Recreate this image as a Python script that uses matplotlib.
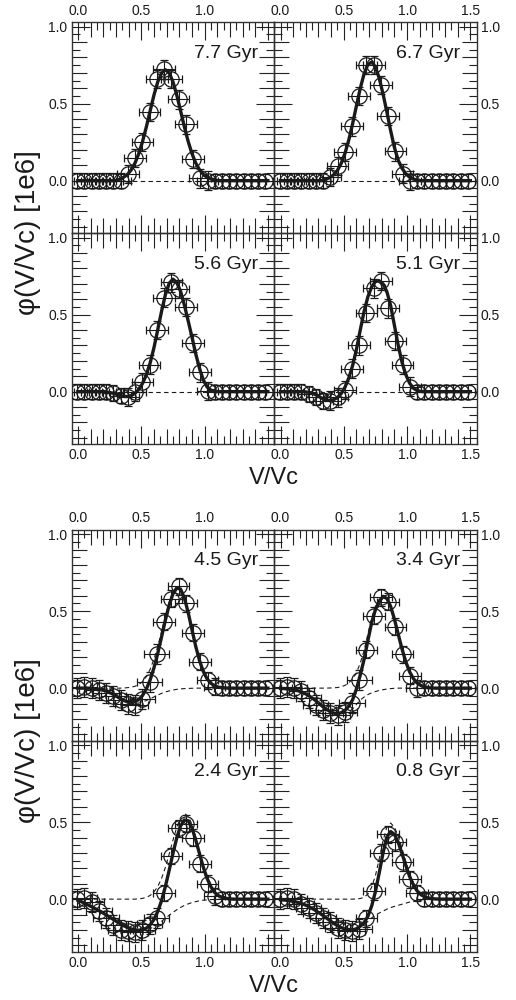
import numpy as np
import matplotlib
matplotlib.use('Agg')
import matplotlib.pyplot as plt
from matplotlib.ticker import MultipleLocator, FixedLocator, FixedFormatter

plt.rcParams['font.family'] = ['Liberation Sans', 'DejaVu Sans']

# ---------------- data ----------------
AGES = ['7.7 Gyr', '6.7 Gyr', '5.6 Gyr', '5.1 Gyr', '4.5 Gyr', '3.4 Gyr', '2.4 Gyr', '0.8 Gyr']

XTICKS = [0.0, 0.5, 1.0, 1.5]
XLABELS_LEFT = ['0.0', '0.5', '1.0', '']
XLABELS_RIGHT = ['0.0', '0.5', '1.0', '1.5']
YTICKS = [0.0, 0.5, 1.0]
YLABELS = ['0.0', '0.5', '1.0']

# positions of the measured points (V/Vc)
CIRCLE_X = [-0.007, 0.050, 0.107, 0.165, 0.222, 0.279, 0.336, 0.393, 0.451, 0.508,
            0.565, 0.622, 0.679, 0.737, 0.794, 0.851, 0.908, 0.965, 1.023, 1.080,
            1.137, 1.194, 1.251, 1.309, 1.366, 1.423, 1.480]

# measured points per panel
C1 = [0, 0, 0, 0, 0, 0, 0, 0.042, 0.146, 0.25, 0.447, 0.66, 0.723, 0.66, 0.528, 0.365,
      0.14, 0.015, 0, 0, 0, 0, 0, 0, 0, 0, 0]
C2 = [0, 0, 0, 0, 0, 0, 0, 0.022, 0.095, 0.185, 0.353, 0.55, 0.75, 0.75, 0.62, 0.42,
      0.19, 0.045, 0.0, 0, 0, 0, 0, 0, 0, 0, 0]
C3 = [0, 0, 0, 0, 0, -0.01, -0.026, -0.035, 0.0, 0.06, 0.175, 0.40, 0.61, 0.71, 0.665,
      0.55, 0.315, 0.125, 0.005, 0, 0, 0, 0, 0, 0, 0, 0]
C4 = [0, 0, 0, 0, -0.015, -0.036, -0.062, -0.058, -0.037, 0.01, 0.15, 0.30, 0.51, 0.67,
      0.72, 0.54, 0.33, 0.175, 0.033, 0, 0, 0, 0, 0, 0, 0, 0]
C5 = [0.0, 0.01, 0.0, -0.01, -0.03, -0.05, -0.08, -0.10, -0.11, -0.07, 0.04, 0.22, 0.43,
      0.58, 0.66, 0.55, 0.36, 0.17, 0.05, 0.01, 0, 0, 0, 0, 0, 0, 0]
C6 = [0.0, 0.01, 0.0, -0.02, -0.065, -0.11, -0.14, -0.16, -0.175, -0.155, -0.095, 0.05,
      0.25, 0.47, 0.59, 0.56, 0.40, 0.22, 0.08, 0.0, 0, 0, 0, 0, 0, 0, 0]
C7 = [0.0, 0.01, -0.02, -0.08, -0.12, -0.17, -0.20, -0.21, -0.215, -0.20, -0.16, -0.12,
      0.04, 0.28, 0.46, 0.49, 0.40, 0.23, 0.10, 0.02, 0, 0, 0, 0, 0, 0, 0]
C8 = [0.0, 0.01, 0.0, -0.03, -0.06, -0.09, -0.12, -0.15, -0.19, -0.20, -0.21, -0.195,
      -0.125, 0.05, 0.30, 0.42, 0.37, 0.24, 0.13, 0.04, 0, 0, 0, 0, 0, 0, 0]

# error bars (upper group / lower group)
XERR_A = [0.08] * 7 + [0.085] * 12 + [0.06] * 8
YERR_A = [0.05] * 7 + [0.06] * 12 + [0.045] * 8
XERR_B = [0.10] * 12 + [0.085] * 8 + [0.06] * 7
YERR_B = [0.065] * 12 + [0.055] * 8 + [0.045] * 7

# fitted curves (V/Vc grid)
CURVE_X = [0.00, 0.03, 0.06, 0.09, 0.12, 0.15, 0.18, 0.21, 0.24, 0.27, 0.30, 0.33, 0.36,
           0.39, 0.42, 0.45, 0.48, 0.51, 0.54, 0.57, 0.60, 0.63, 0.66, 0.69, 0.72, 0.75,
           0.78, 0.81, 0.84, 0.87, 0.90, 0.93, 0.96, 0.99, 1.02, 1.05, 1.08, 1.11, 1.14,
           1.17, 1.20, 1.23, 1.26, 1.29, 1.32, 1.35, 1.38, 1.41, 1.44, 1.47, 1.50]

T1 = [0] * 11 + [0.010, 0.022, 0.040, 0.070, 0.114, 0.176, 0.255, 0.350, 0.454, 0.556,
                 0.642, 0.700, 0.720, 0.700, 0.642, 0.556, 0.454, 0.350, 0.255, 0.176,
                 0.114, 0.070, 0.040, 0.022, 0.011, 0.005] + [0] * 14
T2 = [0] * 12 + [0.010, 0.020, 0.038, 0.067, 0.113, 0.179, 0.266, 0.371, 0.487, 0.599,
                 0.693, 0.754, 0.770, 0.738, 0.665, 0.563, 0.447, 0.325, 0.215, 0.132,
                 0.080, 0.045, 0.022, 0.010, 0.004] + [0] * 14
T3 = [0] * 8 + [-0.005, -0.009, -0.016, -0.024, -0.031, -0.032, -0.026, -0.011, 0.015,
                0.054, 0.110, 0.187, 0.286, 0.403, 0.522, 0.629, 0.703, 0.730, 0.709,
                0.651, 0.563, 0.460, 0.355, 0.245, 0.150, 0.075, 0.030, 0.010,
                0.003] + [0] * 14
T4 = [0] * 7 + [-0.003, -0.008, -0.017, -0.030, -0.044, -0.054, -0.058, -0.052, -0.038,
                -0.012, 0.030, 0.090, 0.170, 0.275, 0.400, 0.520, 0.615, 0.680, 0.715,
                0.720, 0.700, 0.650, 0.560, 0.430, 0.300, 0.190, 0.110, 0.055, 0.022,
                0.007, 0.001] + [0] * 13
T5 = [0] * 3 + [-0.001, -0.003, -0.005, -0.010, -0.016, -0.025, -0.037, -0.051, -0.066,
                -0.079, -0.089, -0.093, -0.088, -0.074, -0.047, -0.005, 0.054, 0.132,
                0.226, 0.333, 0.442, 0.539, 0.612, 0.650, 0.643, 0.586, 0.492, 0.380,
                0.271, 0.178, 0.108, 0.060, 0.031, 0.015, 0.006, 0.003, 0.001] + [0] * 11
P5 = [0] * 12 + [0.001, 0.003, 0.006, 0.012, 0.023, 0.043, 0.075, 0.123, 0.189, 0.271,
                 0.367, 0.467, 0.557, 0.624, 0.658, 0.648, 0.589, 0.494, 0.381, 0.271,
                 0.178, 0.108, 0.060, 0.031, 0.015, 0.006, 0.003, 0.001] + [0] * 11
D5 = [0] * 3 + [-0.001, -0.003, -0.005, -0.010, -0.016, -0.025, -0.037, -0.051, -0.066,
                -0.080, -0.092, -0.099, -0.100, -0.097, -0.090, -0.080, -0.069, -0.057,
                -0.045, -0.034, -0.025, -0.018, -0.012, -0.008, -0.005, -0.003, -0.002,
                -0.001] + [0] * 20
T6 = [-0.002, -0.003, -0.005, -0.008, -0.013, -0.020, -0.030, -0.042, -0.058, -0.076,
      -0.096, -0.117, -0.136, -0.151, -0.162, -0.166, -0.159, -0.144, -0.117, -0.075,
      -0.005, 0.085, 0.186, 0.308, 0.425, 0.510, 0.563, 0.594, 0.583, 0.531, 0.448,
      0.350, 0.254, 0.171, 0.106, 0.062, 0.033, 0.017, 0.008, 0.003, 0.001] + [0] * 10
P6 = [0] * 13 + [0.001, 0.002, 0.004, 0.009, 0.018, 0.035, 0.060, 0.100, 0.163, 0.244,
                 0.350, 0.455, 0.532, 0.578, 0.604, 0.589, 0.534, 0.449, 0.350, 0.254,
                 0.171, 0.106, 0.062, 0.033, 0.017, 0.008, 0.003, 0.001] + [0] * 10
D6 = [-0.002, -0.003, -0.005, -0.008, -0.013, -0.020, -0.030, -0.042, -0.058, -0.076,
      -0.096, -0.117, -0.136, -0.152, -0.164, -0.170, -0.168, -0.162, -0.152, -0.135,
      -0.105, -0.078, -0.058, -0.042, -0.030, -0.022, -0.015, -0.010, -0.006, -0.003,
      -0.001] + [0] * 20
T7 = [-0.008, -0.018, -0.030, -0.042, -0.055, -0.068, -0.081, -0.096, -0.111, -0.127,
      -0.143, -0.158, -0.172, -0.184, -0.194, -0.200, -0.202, -0.200, -0.188, -0.167,
      -0.132, -0.080, -0.009, 0.082, 0.187, 0.297, 0.398, 0.475, 0.514, 0.509, 0.463,
      0.384, 0.294, 0.207, 0.134, 0.080, 0.043, 0.022, 0.011, 0.005, 0.002] + [0] * 10
P7 = [0] * 16 + [0.002, 0.005, 0.012, 0.024, 0.047, 0.082, 0.135, 0.206, 0.292, 0.383,
                 0.467, 0.529, 0.555, 0.540, 0.485, 0.400, 0.305, 0.214, 0.139, 0.083,
                 0.045, 0.023, 0.011, 0.005, 0.002] + [0] * 10
D7 = [-0.008, -0.018, -0.030, -0.042, -0.055, -0.068, -0.081, -0.096, -0.111, -0.127,
      -0.143, -0.158, -0.172, -0.184, -0.194, -0.200, -0.204, -0.205, -0.200, -0.191,
      -0.179, -0.162, -0.144, -0.124, -0.105, -0.086, -0.069, -0.054, -0.041, -0.031,
      -0.022, -0.016, -0.011, -0.007, -0.005, -0.003, -0.002, -0.001] + [0] * 13
T8 = [-0.004, -0.006, -0.009, -0.013, -0.018, -0.024, -0.033, -0.043, -0.056, -0.070,
      -0.086, -0.103, -0.121, -0.139, -0.157, -0.172, -0.185, -0.194, -0.199, -0.200,
      -0.192, -0.176, -0.153, -0.112, -0.045, 0.049, 0.171, 0.300, 0.403, 0.439, 0.421,
      0.369, 0.296, 0.218, 0.147, 0.092, 0.053, 0.029, 0.014, 0.007, 0.003,
      0.001] + [0] * 9
P8 = [0] * 20 + [0.001, 0.004, 0.012, 0.033, 0.077, 0.153, 0.261, 0.378, 0.468, 0.494,
                 0.468, 0.409, 0.329, 0.244, 0.166, 0.105, 0.061, 0.033, 0.016, 0.007,
                 0.003, 0.001] + [0] * 9
D8 = [-0.004, -0.006, -0.009, -0.013, -0.018, -0.024, -0.033, -0.043, -0.056, -0.070,
      -0.086, -0.103, -0.121, -0.139, -0.157, -0.172, -0.185, -0.194, -0.199, -0.200,
      -0.193, -0.180, -0.165, -0.145, -0.122, -0.104, -0.090, -0.078, -0.065, -0.055,
      -0.047, -0.040, -0.033, -0.026, -0.019, -0.013, -0.008, -0.004, -0.002] + [0] * 12

ZERO = [0.0] * len(CURVE_X)

CIRCLES = [C1, C2, C3, C4, C5, C6, C7, C8]
TOTALS = [T1, T2, T3, T4, T5, T6, T7, T8]
PEAKS = [T1, T2, T3, T4, P5, P6, P7, P8]
DIPS = [ZERO, ZERO, ZERO, ZERO, D5, D6, D7, D8]

# ---------------- figure ----------------
fig = plt.figure(figsize=(5.16, 10.0), dpi=100)
L, MID = 0.139, 0.5314
W = 0.3924
H = 0.211
GROUP_TOPS = [0.978, 0.4705]
INK = '#1a1a1a'


def medium_ticks(axis, size):
    locs = axis.get_minorticklocs()
    ticks = axis.get_minor_ticks(len(locs))
    for loc, t in zip(locs, ticks):
        if abs(loc * 10 - round(loc * 10)) < 1e-6:
            t.tick1line.set_markersize(size)
            t.tick2line.set_markersize(size)


for p in range(8):
    g = p // 4
    r = (p % 4) // 2
    c = p % 2
    bottom = GROUP_TOPS[g] - (r + 1) * H
    left = L if c == 0 else MID
    ax = fig.add_axes([left, bottom, W, H])
    ax.patch.set_alpha(0)

    xe = XERR_A if g == 0 else XERR_B
    ye = YERR_A if g == 0 else YERR_B

    ax.plot(CURVE_X, DIPS[p], ls=(0, (4, 3)), lw=0.8, color=INK, zorder=2)
    ax.plot(CURVE_X, PEAKS[p], ls=(0, (4, 3)), lw=0.8, color=INK, zorder=2)
    ax.errorbar(CIRCLE_X, CIRCLES[p], xerr=xe, yerr=ye, fmt='o', ms=11,
                mfc='none', mec=INK, mew=0.9, ecolor=INK, elinewidth=0.8,
                capsize=3, capthick=0.8, zorder=3)
    ax.plot(CURVE_X, TOTALS[p], color=INK, lw=2.4, zorder=4)

    ax.set_xlim(-0.05, 1.55)
    ax.set_ylim(-0.34, 1.03)

    ax.text(0.92, 0.83, AGES[p], transform=ax.transAxes, ha='right', va='baseline',
            fontsize=14, color=INK)

    for s in ax.spines.values():
        s.set_linewidth(1.0)
        s.set_color('#333333')

    ax.xaxis.set_major_locator(FixedLocator(XTICKS))
    ax.xaxis.set_major_formatter(FixedFormatter(XLABELS_LEFT if c == 0 else XLABELS_RIGHT))
    ax.xaxis.set_minor_locator(MultipleLocator(0.05))
    ax.yaxis.set_major_locator(FixedLocator(YTICKS))
    ax.yaxis.set_major_formatter(FixedFormatter(YLABELS))
    ax.yaxis.set_minor_locator(MultipleLocator(0.05))

    ax.tick_params(which='both', direction='in', top=True, bottom=True, left=True,
                   right=True, color='#222222', width=0.8, labelsize=10,
                   labelcolor=INK)
    ax.tick_params(which='major', length=13, pad=3)
    ax.tick_params(which='minor', length=6)
    ax.tick_params(axis='x', labeltop=(r == 0), labelbottom=(r == 1))
    ax.tick_params(axis='y', labelleft=(c == 0), labelright=(c == 1))

    medium_ticks(ax.xaxis, 11)
    medium_ticks(ax.yaxis, 11)

for g in range(2):
    top = GROUP_TOPS[g]
    fig.text(0.055, top - H, 'φ(V/Vc) [1e6]', rotation=90, ha='center', va='center',
             fontsize=20, color=INK)
    fig.text(MID, top - 2 * H - 0.0345, 'V/Vc', ha='center', va='center',
             fontsize=17, color=INK)

fig.savefig('out.png', dpi=100)
